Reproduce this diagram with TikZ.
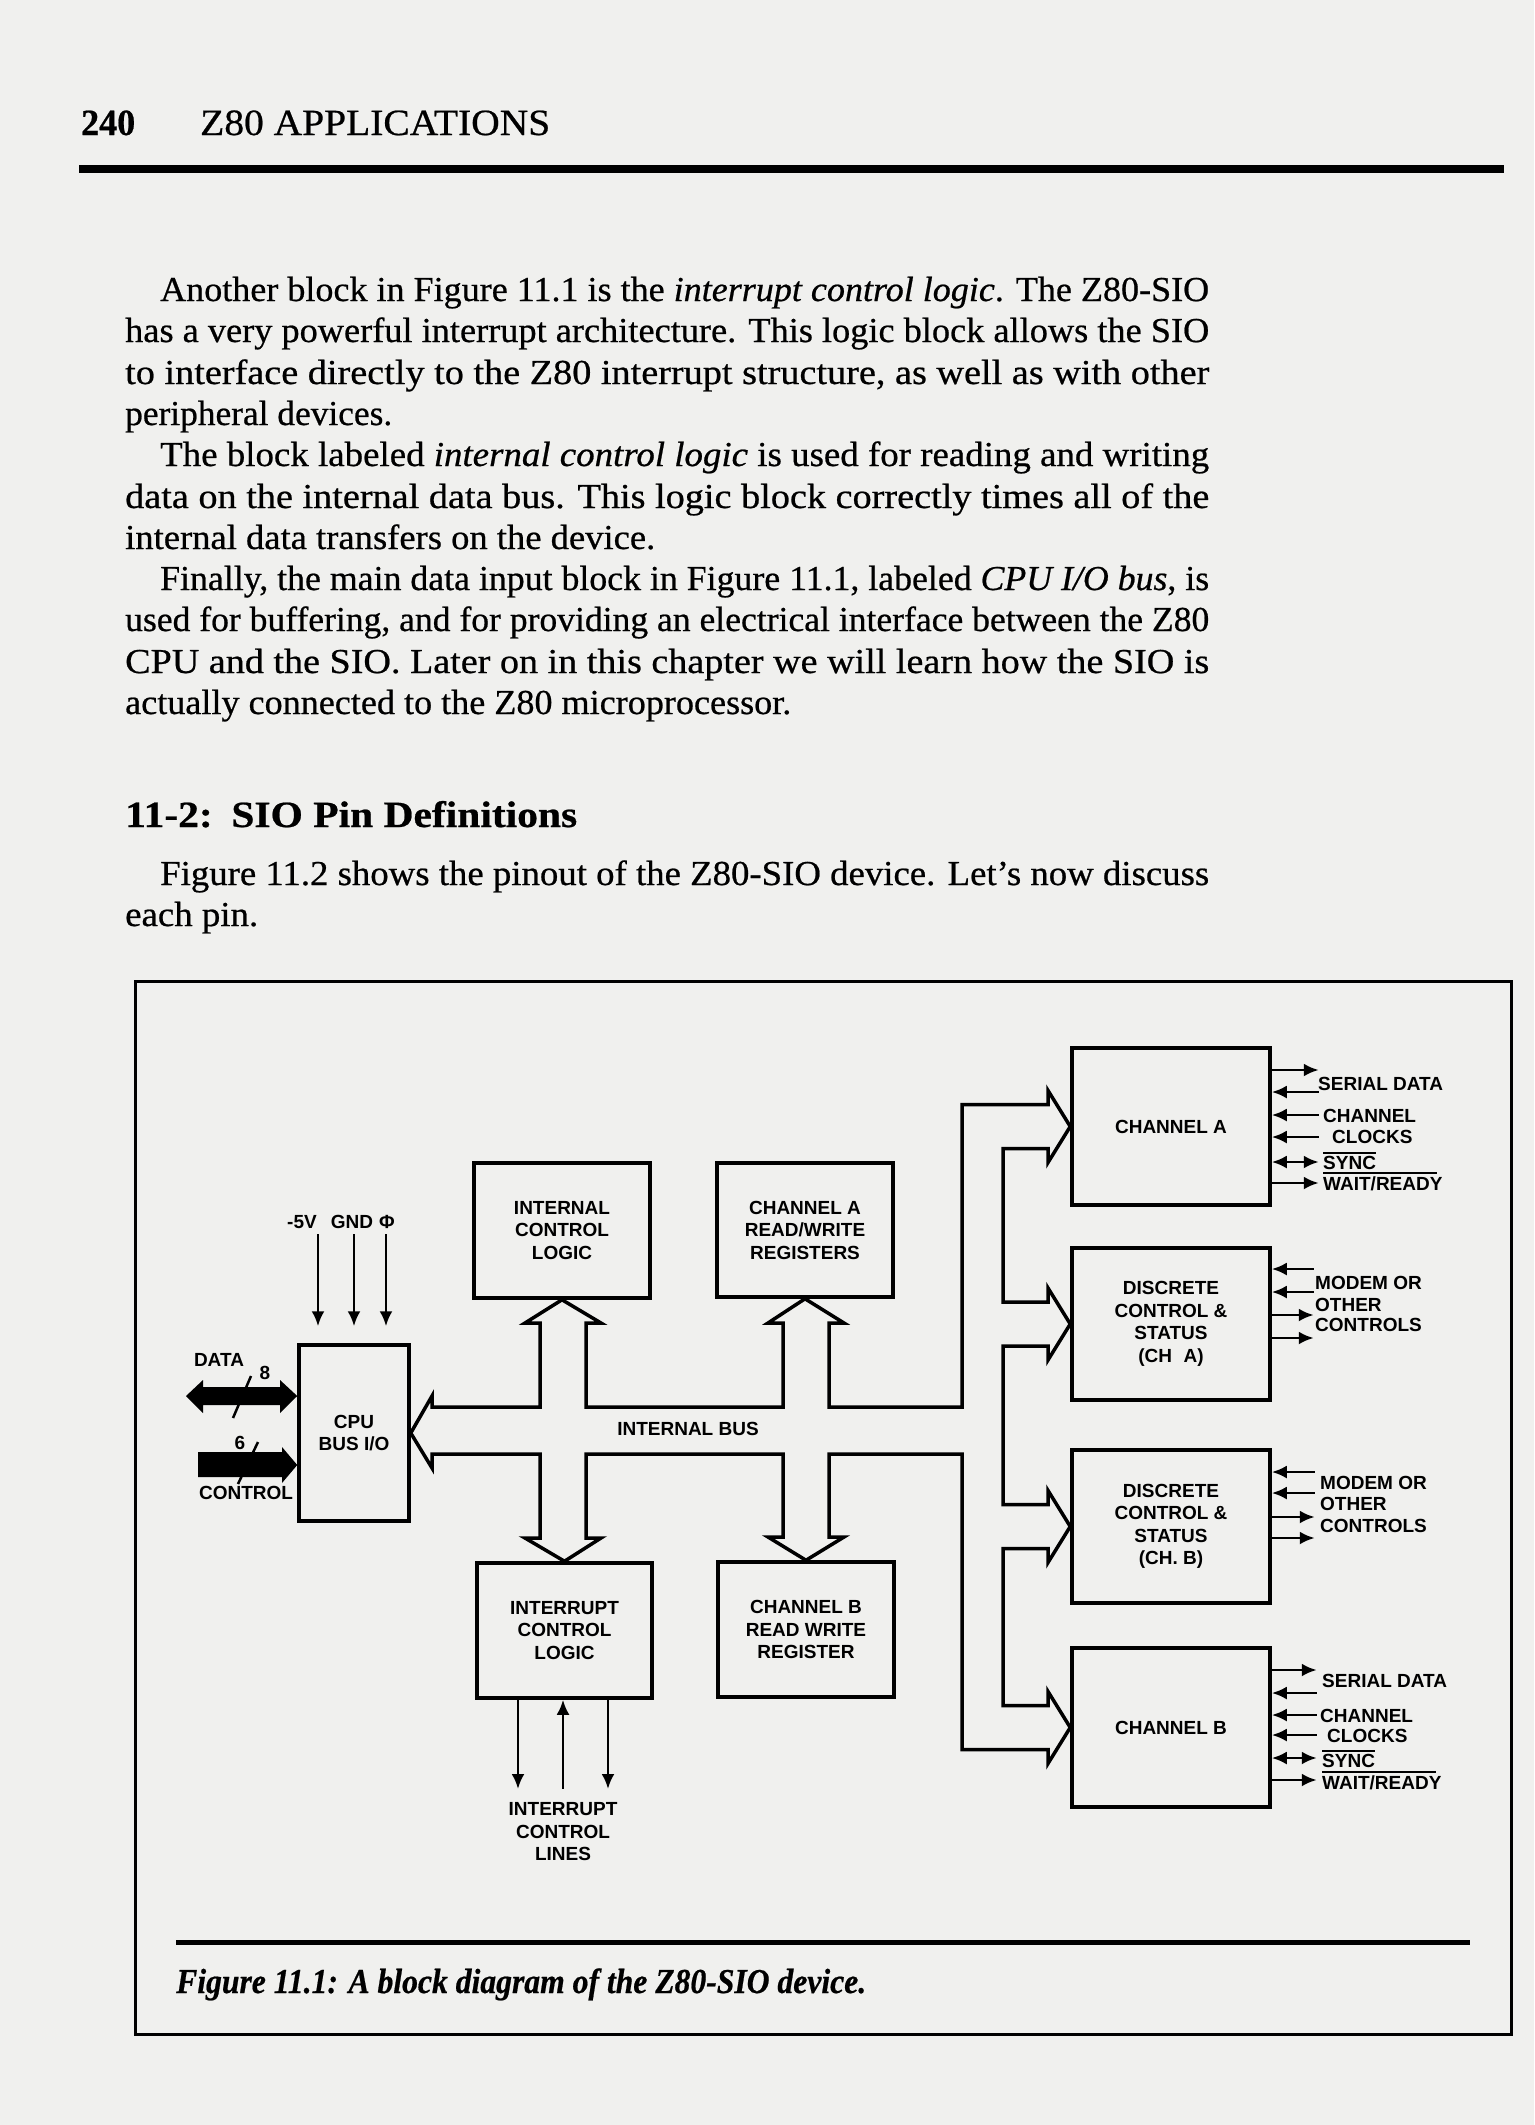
\documentclass[tikz,border=0pt]{standalone}
\usepackage{fontspec}
\usepackage{graphicx}
\setmainfont{Liberation Serif}
\newfontfamily\bodyfont[FakeBold=0.6]{Liberation Serif}
\newfontfamily\diagfont{Liberation Sans}
\usetikzlibrary{arrows.meta}
\definecolor{pagebg}{rgb}{0.94,0.94,0.935}
\newlength\fitlen
\newcommand\fitto[2]{\settowidth{\fitlen}{#2}\pgfmathsetmacro{\fitsx}{#1/\fitlen}\scalebox{\fitsx}[1]{#2}}
\begin{document}
\begin{tikzpicture}[x=1pt,y=-1pt,
  txt/.style={anchor=base west, inner sep=0pt, font=\bodyfont\fontsize{35}{40}\selectfont},
  blk/.style={draw, line width=3.5pt, inner sep=0pt, align=center,
    font=\diagfont\bfseries\fontsize{19}{22.5}\selectfont},
  lab/.style={inner sep=0pt, align=center, font=\diagfont\bfseries\fontsize{19}{22.5}\selectfont},
  rlab/.style={anchor=base west, inner sep=0pt, font=\diagfont\bfseries\fontsize{19}{22.5}\selectfont},
  sigout/.style={line width=2.8pt, -{Latex[length=15pt,width=13pt]}},
  sigin/.style={line width=2.8pt, {Latex[length=15pt,width=13pt]}-},
  sigboth/.style={line width=2.8pt, {Latex[length=15pt,width=13pt]}-{Latex[length=15pt,width=13pt]}},
  bus/.style={line width=3.5pt, line join=miter}
]
\useasboundingbox (0,0) rectangle (1534,2125);
\fill[pagebg] (0,0) rectangle (1534,2125);

% ---------- running head ----------
\node[anchor=base west, inner sep=0pt, font=\bodyfont\bfseries\fontsize{37}{40}\selectfont] (pnum) at (81,135) {\fitto{54}{240}};
\node[anchor=base west, inner sep=0pt, font=\bodyfont\fontsize{37}{40}\selectfont] (rhead) at (200,135) {\fitto{350}{Z80 APPLICATIONS}};
\fill (79,165) rectangle (1504,173);

% ---------- body text ----------
\node[txt] (l1) at (160,301) {\fitto{1049}{Another block in Figure 11.1 is the \textit{interrupt control logic}. The Z80-SIO}};
\node[txt] (l2) at (125,342) {\fitto{1084}{has a very powerful interrupt architecture. This logic block allows the SIO}};
\node[txt] (l3) at (125,384) {\fitto{1084}{to interface directly to the Z80 interrupt structure, as well as with other}};
\node[txt] (l4) at (125,425) {\fitto{267}{peripheral devices.}};
\node[txt] (l5) at (160,466) {\fitto{1049}{The block labeled \textit{internal control logic} is used for reading and writing}};
\node[txt] (l6) at (125,508) {\fitto{1084}{data on the internal data bus. This logic block correctly times all of the}};
\node[txt] (l7) at (125,549) {\fitto{530}{internal data transfers on the device.}};
\node[txt] (l8) at (160,590) {\fitto{1049}{Finally, the main data input block in Figure 11.1, labeled \textit{CPU I/O bus}, is}};
\node[txt] (l9) at (125,631) {\fitto{1084}{used for buffering, and for providing an electrical interface between the Z80}};
\node[txt] (l10) at (125,673) {\fitto{1084}{CPU and the SIO. Later on in this chapter we will learn how the SIO is}};
\node[txt] (l11) at (125,714) {\fitto{666}{actually connected to the Z80 microprocessor.}};
\node[anchor=base west, inner sep=0pt, font=\bodyfont\bfseries\fontsize{37}{40}\selectfont] (head) at (125,827) {\fitto{452}{11-2:\hspace{0.45em}SIO Pin Definitions}};
\node[txt] (l12) at (160,885) {\fitto{1049}{Figure 11.2 shows the pinout of the Z80-SIO device. Let’s now discuss}};
\node[txt] (l13) at (125,926) {\fitto{133}{each pin.}};

% ---------- figure frame ----------
\draw[line width=3pt] (135,981) rectangle (1511,2034);
\draw[line width=5pt] (176,1942) -- (1470,1942);
\node[anchor=base west, inner sep=0pt, font=\bodyfont\bfseries\itshape\fontsize{35}{40}\selectfont] (cap) at (176,1993) {\fitto{690}{Figure 11.1: A block diagram of the Z80-SIO device.}};

% ---------- blocks ----------
\node[blk, minimum width=110pt, minimum height=176pt] (cpu) at (354,1433) {CPU\\BUS I/O};
\node[blk, minimum width=176pt, minimum height=135pt] (icl) at (562,1230.5) {INTERNAL\\CONTROL\\LOGIC};
\node[blk, minimum width=176pt, minimum height=134pt] (charw) at (805,1230) {CHANNEL A\\READ/WRITE\\REGISTERS};
\node[blk, minimum width=175pt, minimum height=135pt] (irq) at (564.5,1630.5) {INTERRUPT\\CONTROL\\LOGIC};
\node[blk, minimum width=176pt, minimum height=135pt] (chbrw) at (806,1629.5) {CHANNEL B\\READ WRITE\\REGISTER};
\node[blk, minimum width=198pt, minimum height=157pt] (cha) at (1171,1126.5) {CHANNEL A};
\node[blk, minimum width=198pt, minimum height=152pt] (dcsa) at (1171,1324) {DISCRETE\\CONTROL \&\\STATUS\\(CH\hspace{0.6em}A)};
\node[blk, minimum width=198pt, minimum height=153pt] (dcsb) at (1171,1526.5) {DISCRETE\\CONTROL \&\\STATUS\\(CH. B)};
\node[blk, minimum width=198pt, minimum height=159pt] (chb) at (1171,1727.5) {CHANNEL B};

% ---------- internal bus (one outline) ----------
\draw[bus] (432,1407) -- (540,1407) -- (540,1323) -- (525,1323) -- (icl.south) -- (601,1323) -- (586,1323) -- (586,1407)
  -- (783,1407) -- (783,1323) -- (768,1323) -- (charw.south) -- (844,1323) -- (829,1323) -- (829,1407)
  -- (962,1407) -- (962,1104.5) -- (1048,1104.5) -- (1048,1090.5) -- (cha.west) -- (1048,1162.5) -- (1048,1148.5)
  -- (1003,1148.5) -- (1003,1302) -- (1048,1302) -- (1048,1288) -- (dcsa.west) -- (1048,1360) -- (1048,1346)
  -- (1003,1346) -- (1003,1504.5) -- (1048,1504.5) -- (1048,1490.5) -- (dcsb.west) -- (1048,1562.5) -- (1048,1548.5)
  -- (1003,1548.5) -- (1003,1705.5) -- (1048,1705.5) -- (1048,1691.5) -- (chb.west) -- (1048,1763.5) -- (1048,1749.5)
  -- (962,1749.5) -- (962,1454) -- (829,1454) -- (829,1537) -- (844,1537) -- (chbrw.north) -- (768,1537) -- (783,1537) -- (783,1454)
  -- (586,1454) -- (586,1538) -- (601,1538) -- (irq.north) -- (525,1538) -- (540,1538) -- (540,1454)
  -- (432,1454) -- (432,1468) -- (cpu.east) -- (432,1396) -- cycle;
\node[lab] (ibus) at (688,1429) {INTERNAL BUS};

% ---------- CPU side ----------
\fill (186,1396) -- (203,1380) -- (203,1387) -- (280,1387) -- (280,1380) -- (cpu.west |- 0,1396) -- (280,1413) -- (280,1405) -- (203,1405) -- (203,1413) -- cycle;
\draw[line width=2.5pt] (233,1418) -- (251,1376);
\fill (198,1452) -- (282,1452) -- (282,1447) -- (cpu.west |- 0,1465) -- (282,1483) -- (282,1477) -- (198,1477) -- cycle;
\draw[line width=2.5pt] (238,1484) -- (258,1442);
\node[lab] (ldata) at (219,1360) {DATA};
\node[lab] (l8b) at (265,1373) {8};
\node[lab] (l6b) at (240,1443) {6};
\node[lab] (lctrl) at (246,1493) {CONTROL};

\node[lab] (p5v) at (302,1222) {-5V};
\node[lab] (pgnd) at (352,1222) {GND};
\node[lab] (pphi) at (387,1222) {Φ};
\draw[sigout, shorten >=17pt] (318,1234) -- (cpu.north -| 318,0);
\draw[sigout, shorten >=17pt] (354,1234) -- (cpu.north -| 354,0);
\draw[sigout, shorten >=17pt] (386,1234) -- (cpu.north -| 386,0);

% ---------- interrupt lines ----------
\draw[sigout] (irq.south -| 518,0) -- (518,1789);
\draw[sigin] (irq.south -| 563,0) -- (563,1789);
\draw[sigout] (irq.south -| 608,0) -- (608,1789);
\node[lab] (irql) at (563,1832) {INTERRUPT\\CONTROL\\LINES};

% ---------- channel A signals ----------
\draw[sigout] (cha.east |- 0,1070) -- +(47,0);
\draw[sigin] (cha.east |- 0,1092) -- +(47,0);
\draw[sigin] (cha.east |- 0,1115) -- +(47,0);
\draw[sigin] (cha.east |- 0,1137) -- +(47,0);
\draw[sigboth] (cha.east |- 0,1162) -- +(47,0);
\draw[sigout] (cha.east |- 0,1183) -- +(47,0);
\node[rlab] (asd) at (1318,1090) {SERIAL DATA};
\node[rlab] (ach) at (1323,1122) {CHANNEL};
\node[rlab] (acl) at (1332,1143) {CLOCKS};
\node[rlab] (asy) at (1323,1169) {SYNC};
\node[rlab] (awr) at (1323,1190) {WAIT/READY};
\draw[line width=2pt] ([yshift=3pt]asy.north west) -- ([yshift=3pt]asy.north east);
\draw[line width=2pt] ([yshift=3pt]awr.north west) -- ([yshift=3pt,xshift=-6pt]awr.north east);

% ---------- discrete A ----------
\draw[sigin] (dcsa.east |- 0,1269) -- +(42,0);
\draw[sigin] (dcsa.east |- 0,1292) -- +(42,0);
\draw[sigout] (dcsa.east |- 0,1315) -- +(42,0);
\draw[sigout] (dcsa.east |- 0,1338) -- +(42,0);
\node[rlab] (am1) at (1315,1289) {MODEM OR};
\node[rlab] (am2) at (1315,1311) {OTHER};
\node[rlab] (am3) at (1315,1331) {CONTROLS};

% ---------- discrete B ----------
\draw[sigin] (dcsb.east |- 0,1472) -- +(43,0);
\draw[sigin] (dcsb.east |- 0,1493) -- +(43,0);
\draw[sigout] (dcsb.east |- 0,1517) -- +(43,0);
\draw[sigout] (dcsb.east |- 0,1538) -- +(43,0);
\node[rlab] (bm1) at (1320,1489) {MODEM OR};
\node[rlab] (bm2) at (1320,1510) {OTHER};
\node[rlab] (bm3) at (1320,1532) {CONTROLS};

% ---------- channel B signals ----------
\draw[sigout] (chb.east |- 0,1670) -- +(45,0);
\draw[sigin] (chb.east |- 0,1693) -- +(45,0);
\draw[sigin] (chb.east |- 0,1715) -- +(45,0);
\draw[sigin] (chb.east |- 0,1735) -- +(45,0);
\draw[sigboth] (chb.east |- 0,1758) -- +(45,0);
\draw[sigout] (chb.east |- 0,1780) -- +(45,0);
\node[rlab] (bsd) at (1322,1687) {SERIAL DATA};
\node[rlab] (bch) at (1320,1722) {CHANNEL};
\node[rlab] (bcl) at (1327,1742) {CLOCKS};
\node[rlab] (bsy) at (1322,1767) {SYNC};
\node[rlab] (bwr) at (1322,1789) {WAIT/READY};
\draw[line width=2pt] ([yshift=3pt]bsy.north west) -- ([yshift=3pt]bsy.north east);
\draw[line width=2pt] ([yshift=3pt]bwr.north west) -- ([yshift=3pt,xshift=-6pt]bwr.north east);
\end{tikzpicture}
\end{document}
